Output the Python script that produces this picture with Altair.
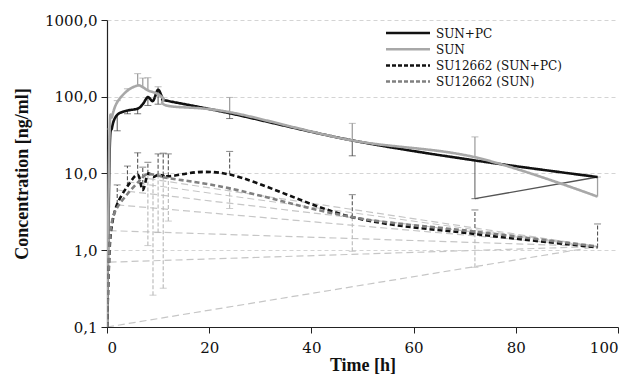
import altair as alt
import pandas as pd

# ---- data ----
times = [0, 0.5, 1, 2, 4, 6, 7, 8, 9, 10, 11, 12, 24, 48, 72, 96]
sun_pc = [0.1, 18, 40, 58, 66, 70, 80, 99, 88, 123, 93, 88, 61, 27, 14.8, 9.0]
sun = [0.1, 32, 55, 85, 120, 140, 133, 121, 115, 108, 95, 76, 63, 27, 16.3, 5.0]
su_pc = [0.1, 1.0, 2.2, 4.0, 6.8, 9.6, 6.1, 9.9, 9.0, 9.6, 9.4, 9.2, 9.7, 2.7, 1.63, 1.09]
su_sun = [0.1, 1.2, 2.4, 3.6, 5.4, 7.6, 9.0, 9.9, 9.7, 9.4, 9.0, 8.7, 6.4, 2.7, 1.75, 1.12]

series_names = ["SUN+PC", "SUN", "SU12662 (SUN+PC)", "SU12662 (SUN)"]
series_colors = ["#111111", "#a8a8a8", "#111111", "#808080"]
series_dash = [[1, 0], [1, 0], [5, 3], [5, 3]]
legend_dash = [[1, 0], [1, 0], [4, 2], [4, 2]]

# error bars (time, low, high)
sun_pc_err_t = [2, 4, 6, 8, 10, 24, 48, 72]
sun_pc_err_lo = [36, 60, 60, 77, 80, 52, 17, 4.7]
sun_err_t = [0.5, 2, 4, 6, 7, 8, 10, 24, 48, 72, 96]
sun_err_hi = [38, 89, 127, 200, 175, 177, 135, 98, 45, 30, 9.0]
su_pc_err_t = [2, 4, 6, 7, 8, 10, 11, 12, 24, 48, 72, 96]
su_pc_err_hi = [7.1, 12.5, 18.6, 12.1, 14, 18, 18.4, 18, 19.4, 5.3, 3.35, 2.2]
su_sun_err_t = [8, 9, 10, 11, 12, 24, 48, 72]
su_sun_err_lo = [1.15, 0.26, 1.7, 0.32, 2.4, 3.5, 0.97, 0.6]

# stray connector and fan lines seen in the reference
link_t = [72, 96]
link_v = [4.7, 9.0]
fan_start_t = [0, 0.5, 0.5, 2, 2, 4, 6]
fan_start_v = [0.1, 0.7, 1.8, 3.9, 6.1, 7.8, 9.0]
fan_end = (96, 1.12)

x_ticks = [0, 20, 40, 60, 80, 100]
y_ticks = [0.1, 1, 10, 100, 1000]

# ---- tables ----
vals = [sun_pc, sun, su_pc, su_sun]
rows = []
for name, vs in zip(series_names, vals):
    for t, v in zip(times, vs):
        rows.append({"series": name, "t": t, "v": v})
lines_df = pd.DataFrame(rows)

lookup = {name: dict(zip(times, vs)) for name, vs in zip(series_names, vals)}


def bars(name, ts, lo=None, hi=None):
    out = []
    for i, t in enumerate(ts):
        base = lookup[name][t]
        l = lo[i] if lo is not None else base
        h = hi[i] if hi is not None else base
        out.append({"t": t, "lo": l, "hi": h, "cap": l if lo is not None else h})
    return pd.DataFrame(out)


b_sun_pc = bars("SUN+PC", sun_pc_err_t, lo=sun_pc_err_lo)
b_sun = bars("SUN", sun_err_t, hi=sun_err_hi)
b_sun.loc[0, "lo"] = 3.6
b_su_pc = bars("SU12662 (SUN+PC)", su_pc_err_t, hi=su_pc_err_hi)
b_su_sun = bars("SU12662 (SUN)", su_sun_err_t, lo=su_sun_err_lo)

fan_rows = []
for i, (t0, v0) in enumerate(zip(fan_start_t, fan_start_v)):
    fan_rows.append({"g": i, "t": t0, "v": v0})
    fan_rows.append({"g": i, "t": fan_end[0], "v": fan_end[1]})
fan_df = pd.DataFrame(fan_rows)
link_df = pd.DataFrame({"t": link_t, "v": link_v})

# ---- encodings ----
xs = alt.Scale(domain=[0, 100], nice=False)
ys = alt.Scale(type="log", domain=[0.1, 1000], nice=False)
x_axis = alt.Axis(values=x_ticks, title="Time [h]", grid=False, tickSize=6,
                  labelPadding=7, titlePadding=1, titleFontSize=18)
y_axis = alt.Axis(values=y_ticks, title="Concentration [ng/ml]", grid=True,
                  gridDash=[4, 3], gridColor="#d4d4d4", tickSize=6, labelPadding=4,
                  titlePadding=13, titleFontSize=18,
                  labelExpr="replace(format(datum.value, '.1f'), '.', ',')")


def X(f="t"):
    return alt.X(f"{f}:Q", scale=xs, axis=x_axis)


def Y(f="v"):
    return alt.Y(f"{f}:Q", scale=ys, axis=y_axis)


fan = alt.Chart(fan_df).mark_line(clip=True, strokeDash=[7, 4], strokeWidth=1.2, color="#c6c6c6").encode(
    x=X(), y=Y(), detail="g:N")


def err_layer(df, color, dash, width):
    rule = alt.Chart(df).mark_rule(clip=True, color=color, strokeDash=dash, strokeWidth=width).encode(
        x=X(), y=Y("lo"), y2="hi:Q")
    cap = alt.Chart(df).mark_tick(clip=True, orient="horizontal", size=7, thickness=1, color=color).encode(
        x=X(), y=Y("cap"))
    return rule + cap


e1 = err_layer(b_sun_pc, "#444444", [1, 0], 1)
e2 = err_layer(b_sun, "#a0a0a0", [1, 0], 1.3)
e3 = err_layer(b_su_pc, "#555555", [4, 2], 1.1)
e4 = err_layer(b_su_sun, "#b8b8b8", [4, 2], 1.1)

link = alt.Chart(link_df).mark_line(clip=True, color="#555555", strokeWidth=1.3).encode(x=X(), y=Y())

main = alt.Chart(lines_df).mark_line(clip=True, strokeWidth=2.6, interpolate="cardinal").encode(
    x=X(), y=Y(),
    color=alt.Color("series:N", scale=alt.Scale(domain=series_names, range=series_colors), legend=None),
    strokeDash=alt.StrokeDash("series:N", scale=alt.Scale(domain=series_names, range=series_dash), legend=None),
)

# ---- hand-made legend (top right, as in the reference) ----
legend_layers = []
for i, (name, col, dash) in enumerate(zip(series_names, series_colors, legend_dash)):
    ly = 13 + 16.2 * i
    ldf = pd.DataFrame({"label": [name]})
    legend_layers.append(
        alt.Chart(ldf).mark_rule(color=col, strokeWidth=2.5, strokeDash=dash).encode(
            x=alt.value(279), x2=alt.value(323), y=alt.value(ly)))
    legend_layers.append(
        alt.Chart(ldf).mark_text(align="left", baseline="middle", font="DejaVu Serif",
                                 fontSize=12, color="#111").encode(
            x=alt.value(329), y=alt.value(ly + 0.5), text="label:N"))

chart = alt.layer(fan, e4, e3, e2, e1, link, main, *legend_layers).properties(
    width=511, height=307,
    autosize=alt.AutoSizeParams(type="none"),
    padding={"left": 99, "top": 12, "right": 5, "bottom": 48},
).configure_view(stroke=None).configure_axis(
    labelFont="DejaVu Serif", labelFontSize=15, labelColor="#111",
    titleFont="Liberation Serif", titleFontWeight="bold", titleColor="#111",
    domainColor="#222", tickColor="#222", domainWidth=1.2,
)

chart.save("out.html", embed_options={"renderer": "svg", "actions": False})
